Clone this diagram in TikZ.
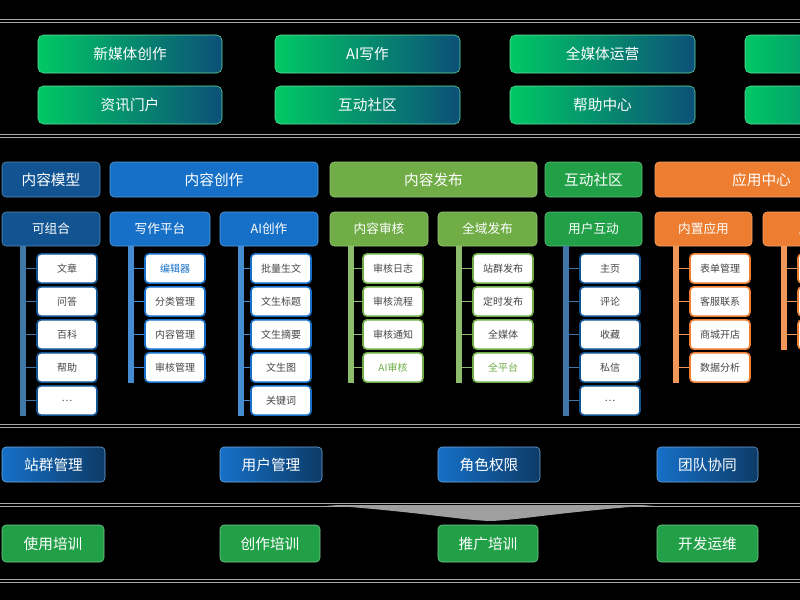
\documentclass[tikz,border=0pt]{standalone}
\usepackage{fontspec}
\setmainfont{Noto Sans CJK SC}
\usetikzlibrary{positioning}
\definecolor{topgreen}{RGB}{0,200,100}
\definecolor{topteal}{RGB}{12,80,120}
\definecolor{cmodel}{RGB}{18,84,146}
\definecolor{cwrite}{RGB}{22,112,200}
\definecolor{cpub}{RGB}{112,173,71}
\definecolor{ccomm}{RGB}{34,160,72}
\definecolor{capp}{RGB}{237,125,49}
\definecolor{itemtxt}{RGB}{70,70,70}
\tikzset{topbox/.style={rectangle,rounded corners=4pt,draw=topgreen!60!white,
left color=topgreen,right color=topteal,text=white,font=\fontsize{11}{13}\selectfont}}
\tikzset{head/.style={rectangle,rounded corners=3pt,draw=#1!70!white,fill=#1,
text=white,font=\fontsize{11}{13}\selectfont}}
\tikzset{subhead/.style={rectangle,rounded corners=3pt,draw=#1!70!white,fill=#1,
text=white,font=\fontsize{9.5}{11}\selectfont}}
\tikzset{item/.style={rectangle,rounded corners=3pt,draw=#1,line width=1.2pt,fill=white,
text=itemtxt,font=\fontsize{7.5}{9}\selectfont,minimum width=45pt,minimum height=22pt}}
\tikzset{bluebox/.style={rectangle,rounded corners=3pt,draw=cwrite!60!white,
left color=cwrite,right color=cmodel!70!black,text=white,font=\fontsize{11}{13}\selectfont}}
\tikzset{greenbox/.style={rectangle,rounded corners=3pt,draw=ccomm!60!white,fill=ccomm,
text=white,font=\fontsize{11}{13}\selectfont}}
\tikzset{sepline/.style={draw=gray!70,line width=1pt,double=black,double distance=1pt}}
\newcommand\ai{\textit{AI}}
% box from two corners, in pixels
\newcommand\pbox[7]{\node[#6,minimum width={(#4-#2)*0.75pt},minimum height={(#5-#3)*0.75pt},
inner sep=0pt] (#1) at ({(#2+#4)/2},{(#3+#5)/2}) {#7};}
% one column of items under a sub header
\newcommand\grp[5]{%
  \coordinate (#1bar) at ([xshift=16pt]#1.south west);
  \foreach \txt [count=\i] in {#5} {
    \node[item=#2] (#1\i) at ({#3+30},{268.5+33*(\i-1)}) {\txt};
    \draw[#2!80!white,line width=1pt] (#1bar |- #1\i.west) -- (#1\i.west);
  }
  \draw[#2!80!white,line width=4pt] (#1bar) -- (#1bar |- #1#4.south);
}
\begin{document}
\begin{tikzpicture}[x=0.75pt,y=-0.75pt]
\fill[black] (0,0) rectangle (800,600);
\useasboundingbox (0,0) rectangle (800,600);

% separators
\draw[sepline] (0,21) -- (800,21);
\draw[sepline] (0,136) -- (800,136);
\draw[sepline] (0,426) -- (800,426);
\draw[sepline] (0,505) -- (800,505);
\draw[sepline] (0,581) -- (800,581);
\fill[gray!75] (325,505) -- (655,505) .. controls (560,512) and (520,520) .. (490,521)
  .. controls (460,520) and (420,512) .. (325,505);

% top
\pbox{tA}{38}{35}{222}{73}{topbox}{新媒体创作}
\pbox{tB}{275}{35}{460}{73}{topbox}{\ai 写作}
\pbox{tC}{510}{35}{695}{73}{topbox}{全媒体运营}
\pbox{tD}{745}{35}{930}{73}{topbox}{}
\pbox{tE}{38}{86}{222}{124}{topbox}{资讯门户}
\pbox{tF}{275}{86}{460}{124}{topbox}{互动社区}
\pbox{tG}{510}{86}{695}{124}{topbox}{帮助中心}
\pbox{tH}{745}{86}{930}{124}{topbox}{}

% headers
\pbox{hModel}{2}{162}{100}{197}{head=cmodel}{内容模型}
\pbox{hWrite}{110}{162}{318}{197}{head=cwrite}{内容创作}
\pbox{hPub}{330}{162}{537}{197}{head=cpub}{内容发布}
\pbox{hComm}{545}{162}{642}{197}{head=ccomm}{互动社区}
\pbox{hApp}{655}{162}{868}{197}{head=capp}{应用中心}

% sub headers
\pbox{sCombo}{2}{212}{100}{246}{subhead=cmodel}{可组合}
\pbox{sPlat}{110}{212}{210}{246}{subhead=cwrite}{写作平台}
\pbox{sAi}{220}{212}{318}{246}{subhead=cwrite}{\ai 创作}
\pbox{sAudit}{330}{212}{428}{246}{subhead=cpub}{内容审核}
\pbox{sAll}{438}{212}{537}{246}{subhead=cpub}{全域发布}
\pbox{sUser}{545}{212}{642}{246}{subhead=ccomm}{用户互动}
\pbox{sBuilt}{655}{212}{752}{246}{subhead=capp}{内置应用}
\pbox{sMore}{763}{212}{860}{246}{subhead=capp}{应用}

% items
\grp{sCombo}{cmodel}{37}{5}{文章,问答,百科,帮助,{\dots}}
\grp{sPlat}{cwrite}{145}{4}{\textcolor{cwrite}{编辑器},分类管理,内容管理,审核管理}
\grp{sAi}{cwrite}{251}{5}{批量生文,文生标题,文生摘要,文生图,关键词}
\grp{sAudit}{cpub}{363}{4}{审核日志,审核流程,审核通知,\textcolor{cpub}{\ai 审核}}
\grp{sAll}{cpub}{473}{4}{站群发布,定时发布,全媒体,\textcolor{cpub}{全平台}}
\grp{sUser}{cmodel}{580}{5}{主页,评论,收藏,私信,{\dots}}
\grp{sBuilt}{capp}{690}{4}{表单管理,客服联系,商城开店,数据分析}
\grp{sMore}{capp}{798}{3}{{},{},{}}

% bottom
\pbox{bSite}{2}{447}{105}{482}{bluebox}{站群管理}
\pbox{bUser}{220}{447}{322}{482}{bluebox}{用户管理}
\pbox{bRole}{438}{447}{540}{482}{bluebox}{角色权限}
\pbox{bTeam}{657}{447}{758}{482}{bluebox}{团队协同}
\pbox{gUse}{2}{525}{104}{562}{greenbox}{使用培训}
\pbox{gWrite}{220}{525}{320}{562}{greenbox}{创作培训}
\pbox{gPromo}{438}{525}{538}{562}{greenbox}{推广培训}
\pbox{gOps}{657}{525}{758}{562}{greenbox}{开发运维}
\end{tikzpicture}
\end{document}
